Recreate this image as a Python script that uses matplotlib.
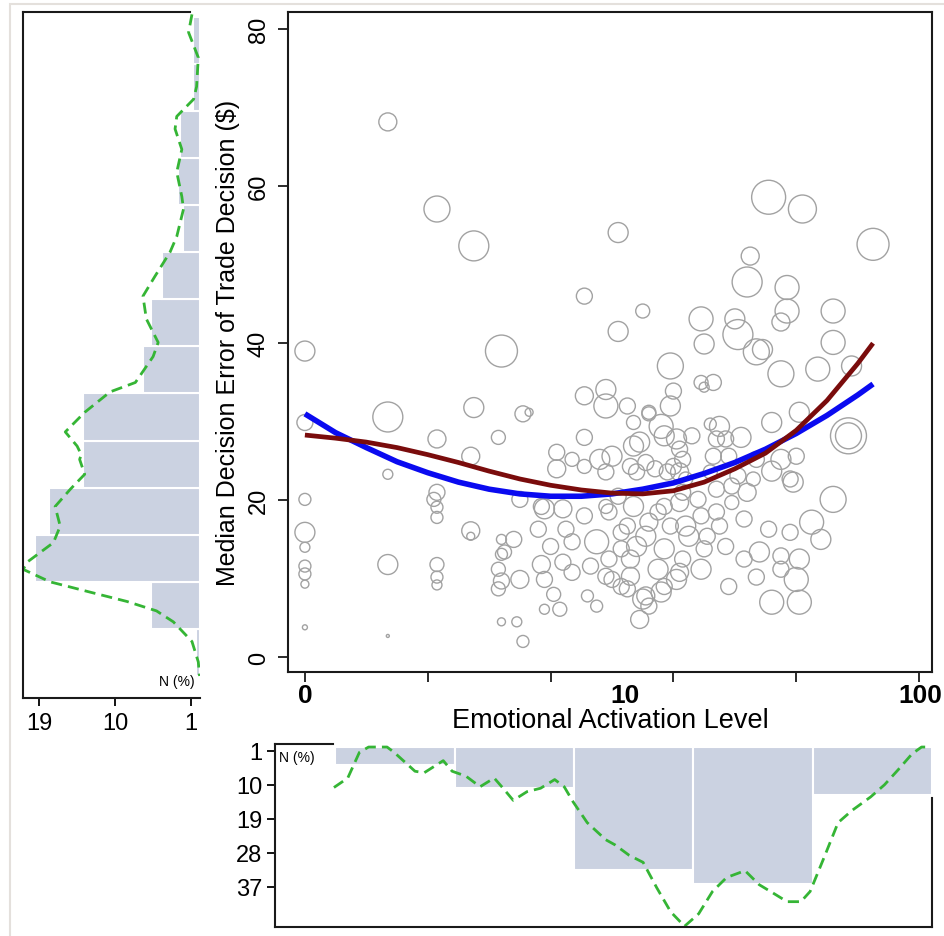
import matplotlib.pyplot as plt
import numpy as np
from matplotlib.patches import Rectangle

plt.rcParams['font.family'] = ['Liberation Sans', 'DejaVu Sans']

# bubbles: log10(activation + 1), median decision error ($), bubble weight
act_log = [
    0.00, 0.00, 0.00, 0.00, 0.00, 0.00, 0.00, 0.00, 0.00,
    0.27, 0.27, 0.27, 0.27, 0.27,
    0.43, 0.55, 0.55, 0.43, 0.43, 0.42, 0.43, 0.43, 0.54, 0.54, 0.43,
    0.63, 0.71, 0.64, 0.64, 0.63, 0.64, 0.63, 0.64, 0.71, 0.54, 0.64, 0.43, 0.43,
    0.91, 1.02, 1.10, 1.02, 1.29, 1.30, 1.19, 1.29, 1.30, 0.91, 0.98, 0.98,
    1.05, 1.20, 1.19, 1.12, 1.07, 1.17, 1.21, 1.26, 0.91, 0.82, 0.87, 0.73, 1.09,
    1.44, 1.57, 1.57, 1.55, 1.72, 1.40, 1.41, 1.47, 1.49, 1.55, 1.67, 1.72, 1.78,
    1.33, 1.61, 1.52, 1.32, 1.34, 1.42, 1.77, 1.77, 1.55, 1.60, 1.38,
    1.51, 1.62, 1.85, 1.45, 1.12, 1.16, 1.72, 1.65, 1.68, 1.52, 1.47, 1.59, 1.44,
    1.60, 1.61, 1.52, 1.09, 1.43, 1.55, 1.47, 1.38, 1.29, 1.21, 1.16, 1.10, 1.03,
    0.98, 1.23, 1.08, 1.31, 1.37, 1.48, 1.24, 1.12, 1.03, 0.99, 1.07, 1.17, 1.28,
    1.34, 1.39, 1.23, 1.34, 1.41, 1.24, 1.02, 1.43, 1.35, 1.51, 1.58, 1.55, 1.61,
    1.35, 1.07, 1.00, 1.11, 1.23, 1.32, 1.18, 1.08, 0.98, 0.82, 0.91, 1.06,
    0.77, 0.84, 0.91, 0.98, 1.15, 1.22, 1.29, 0.76, 0.85, 0.95, 1.05, 1.11, 1.19,
    1.25, 0.80, 0.87, 1.03, 1.17, 1.30, 0.77, 0.84, 0.93, 1.06, 1.15, 1.22, 0.78,
    0.87, 0.81, 1.05, 1.11, 1.17, 1.12, 0.96, 1.22, 1.20, 1.33, 1.37, 1.46, 1.58,
    1.39, 0.68, 0.65, 0.70, 0.83, 0.69, 0.70, 0.78, 1.00, 1.14, 1.22, 1.06, 0.99,
    0.92, 0.95, 0.78,
]
error = [
    39.0, 29.9, 20.1, 15.9, 14.0, 11.6, 10.6, 9.3, 3.8,
    68.2, 30.6, 23.3, 11.8, 2.7,
    57.1, 52.4, 31.8, 27.8, 21.0, 20.1, 19.1, 17.8, 16.1, 15.4, 11.8,
    28.0, 31.0, 15.0, 13.1, 11.2, 9.7, 8.7, 4.5, 2.0, 25.6, 39.0, 10.2, 9.2,
    46.0, 54.1, 44.1, 41.5, 43.1, 39.9, 37.1, 35.0, 34.4, 33.3, 34.1, 32.0,
    32.0, 33.9, 32.0, 31.0, 29.9, 28.2, 27.8, 28.2, 28.0, 26.1, 25.2, 31.2, 27.4,
    47.8, 47.1, 44.1, 42.7, 44.1, 43.1, 41.1, 38.9, 39.2, 36.1, 36.7, 40.1, 37.1,
    35.0, 31.2, 29.9, 29.7, 27.8, 28.0, 28.2, 28.2, 25.2, 25.6, 25.6,
    58.6, 57.1, 52.6, 51.1, 31.2, 29.4, 20.1, 17.2, 15.0, 23.7, 25.2, 22.3, 21.0,
    9.9, 7.0, 7.0, 4.8, 12.5, 12.9, 10.2, 9.0, 11.2, 9.9, 8.3, 7.4, 9.0,
    10.3, 12.5, 14.1, 15.4, 14.1, 13.4, 16.7, 17.2, 15.9, 18.5, 19.2, 19.2, 20.1,
    18.5, 19.7, 21.0, 21.4, 23.1, 22.7, 20.5, 17.6, 16.7, 16.3, 15.9, 11.2, 12.5,
    29.4, 26.9, 25.6, 24.8, 25.2, 23.6, 23.6, 23.6, 23.6, 24.0, 24.3, 24.3,
    19.2, 18.9, 18.0, 19.2, 18.5, 19.7, 18.0, 16.3, 16.3, 14.7, 16.7, 15.4, 16.7,
    15.4, 14.1, 14.7, 13.8, 13.8, 13.8, 11.8, 12.1, 11.6, 10.3, 11.2, 10.8, 9.9,
    10.8, 8.0, 8.7, 7.8, 9.0, 6.5, 25.2, 26.5, 24.3, 25.6, 27.8, 22.7, 22.7,
    21.8, 15.0, 13.4, 9.9, 6.1, 4.5, 20.1, 18.9, 9.9, 24.0, 23.6, 12.5, 12.5,
    7.8, 6.5, 6.1,
]
weight = [
    10, 8, 6, 10, 5, 6, 6, 4, 2.5,
    9, 15, 5, 10, 1.5,
    13, 15, 10, 9, 8, 7, 6, 6, 9, 4, 7,
    7, 8, 5, 6, 7, 8, 7, 4, 6, 9, 16, 6, 5,
    8, 10, 7, 10, 12, 10, 13, 7, 5, 9, 10, 12,
    8, 8, 10, 7, 7, 10, 10, 8, 8, 8, 7, 4, 10,
    15, 12, 12, 9, 12, 10, 15, 13, 10, 13, 12, 12, 10,
    8, 10, 10, 6, 8, 10, 18, 13, 10, 8, 8,
    17, 14, 16, 9, 7, 12, 13, 12, 10, 10, 8, 10, 9,
    12, 12, 12, 9, 8, 8, 8, 8, 10, 10, 10, 10, 8,
    8, 8, 10, 8, 8, 10, 10, 9, 8, 8, 10, 8, 8,
    8, 7, 8, 8, 8, 7, 8, 8, 8, 8, 8, 8, 10,
    10, 10, 10, 8, 8, 7, 8, 8, 8, 9, 7, 8,
    8, 9, 8, 7, 8, 9, 8, 8, 8, 12, 8, 10, 8,
    10, 8, 8, 8, 10, 8, 9, 8, 8, 9, 10, 9, 8,
    8, 7, 8, 9, 8, 8, 10, 8, 8, 8, 8, 7, 8,
    8, 8, 7, 9, 7, 5, 8, 10, 8, 8, 9, 9, 8,
    6, 6, 5,
]

# fitted curves
fit_x = [0.0, 0.1, 0.2, 0.3, 0.4, 0.5, 0.6, 0.7, 0.8, 0.9, 1.0,
         1.1, 1.2, 1.3, 1.4, 1.5, 1.6, 1.7, 1.8, 1.85]
fit_blue = [31.0, 28.6, 26.7, 24.9, 23.5, 22.3, 21.4, 20.8, 20.5, 20.5, 20.8,
            21.4, 22.2, 23.4, 24.8, 26.5, 28.5, 30.8, 33.4, 34.8]
fit_red = [28.3, 27.9, 27.4, 26.7, 25.8, 24.8, 23.7, 22.7, 21.9, 21.3, 20.9,
           20.8, 21.2, 22.3, 24.0, 26.0, 28.9, 32.7, 37.4, 40.0]

# left marginal histogram (error bins, % of N)
err_bin_lo = [-2.4, 3.6, 9.6, 15.6, 21.6, 27.6, 33.6, 39.6, 45.6, 51.6, 57.6, 63.6, 69.6, 75.6]
err_pct = [0.4, 5.75, 19.5, 17.8, 13.8, 13.8, 6.7, 5.8, 4.4, 2.0, 2.5, 2.3, 0.8, 0.8]
kde_err_pct = [0.9, 1.3, 0.15, 0.35, 0.7, 2.7, 2.9, 2.1, 2.7, 2.1, 1.9, 2.7, 3.5, 5.3, 6.7,
               6.3, 4.9, 5.5, 7.6, 10.6, 13.6, 15.9, 14.5, 14.0, 14.2, 13.6, 15.3, 17.1,
               16.5, 17.3, 20.3, 20.9, 17.7, 13.0, 8.6, 5.1, 3.1, 0.9, 0.15, 0.0]
kde_err_y = [81.9, 79.6, 76.4, 72.7, 71.1, 68.9, 67.3, 64.7, 61.8, 58.7, 57.1, 53.6, 51.6,
             48.5, 46.0, 43.1, 40.1, 38.3, 35.0, 33.8, 31.2, 28.7, 26.9, 25.8, 25.2, 23.3,
             21.4, 19.2, 16.7, 14.6, 12.2, 11.2, 9.6, 8.3, 7.1, 5.9, 4.5, 2.0, -0.6, -2.4]

# bottom marginal histogram (activation bins, % of N)
act_bin_lo = [0.098, 0.487, 0.876, 1.265, 1.654]
act_pct = [4.8, 10.8, 32.6, 36.3, 12.8]
kde_act_x = [0.094, 0.139, 0.177, 0.207, 0.267, 0.29, 0.358, 0.388, 0.45, 0.479, 0.524,
             0.57, 0.616, 0.645, 0.678, 0.723, 0.767, 0.813, 0.844, 0.873, 0.919, 0.979,
             1.01, 1.055, 1.101, 1.146, 1.191, 1.236, 1.282, 1.327, 1.373, 1.433, 1.479,
             1.524, 1.57, 1.615, 1.645, 1.691, 1.736, 1.781, 1.842, 1.887, 1.933, 1.977,
             2.008, 2.035]
kde_act_pct = [10.7, 8.2, 1.4, 0.0, 0.0, 1.4, 6.4, 6.8, 3.6, 6.4, 7.7, 10.5, 8.2, 10.9,
               14.1, 11.8, 10.9, 8.6, 10.5, 14.5, 20.0, 24.5, 25.9, 28.6, 30.5, 37.3, 43.6,
               47.4, 44.1, 38.2, 34.5, 32.7, 36.4, 38.6, 40.9, 40.9, 38.2, 29.1, 20.0, 16.8,
               13.2, 10.0, 5.9, 1.8, 0.0, 0.0]

x_tick_vals = [0, 10, 100]

bar_col = '#cbd2e1'
kde_col = '#35b535'
spine_col = '#1a1a1a'

fig = plt.figure(figsize=(9.44, 9.37), dpi=100)
# faint outer frame of the original screenshot
fig.patches.append(Rectangle((10 / 944, -0.01), 1.0, 1.0 - 5 / 937 + 0.01, transform=fig.transFigure,
                             fill=False, edgecolor='#e4e0dc', linewidth=1.5))

# ---- main scatter ----
ax = fig.add_axes([0.3051, 0.2817, 0.6822, 0.7044])
sizes = 2.07 * np.array(weight) ** 2
ax.scatter(act_log, error, s=sizes, facecolors='none', edgecolors='#a2a2a2', linewidths=1.0)
ax.plot(fit_x, fit_blue, color='#0a0af0', lw=4.0, solid_capstyle='butt')
ax.plot(fit_x, fit_red, color='#7a0c0c', lw=3.4, solid_capstyle='butt')
ax.set_xlim(-0.055, 2.042)
ax.set_ylim(-1.9, 82.2)
ax.set_yticks([0, 20, 40, 60, 80])
ax.xaxis.remove_overlapping_locs = False
ax.set_xticks(np.arange(0, 2.01, 0.4), labels=[''] * 6)
ax.set_xticks(np.log10(np.array(x_tick_vals) + 1), labels=[str(v) for v in x_tick_vals], minor=True)
ax.tick_params(axis='x', which='minor', length=0, labelsize=19, pad=8)
for t in ax.get_xticklabels(minor=True):
    t.set_fontweight('bold')
ax.tick_params(axis='both', which='major', direction='out', length=7, width=1.3, color=spine_col)
ax.tick_params(axis='y', labelsize=17, labelrotation=90, pad=6)
for t in ax.get_yticklabels():
    t.set_va('center')
ax.set_xlabel('Emotional Activation Level', fontsize=19.5, labelpad=0)
ax.set_ylabel('Median Decision Error of Trade Decision ($)', fontsize=18, labelpad=6)
for s in ax.spines.values():
    s.set_color(spine_col)
    s.set_linewidth(1.5)

# ---- left marginal ----
axl = fig.add_axes([0.0244, 0.2540, 0.1870, 0.7321])
axl.barh(np.array(err_bin_lo) + 3.0, err_pct, height=6.0, left=0, color=bar_col,
         edgecolor='white', linewidth=1.5)
axl.plot(kde_err_pct, kde_err_y, color=kde_col, lw=2.0, dashes=(4, 2.2))
axl.set_xlim(20.9, 0)
axl.set_ylim(-5.2, 82.2)
axl.set_xticks([19, 10, 1])
axl.set_yticks([])
axl.tick_params(axis='x', direction='out', length=6, width=1.3, labelsize=17, pad=4)
axl.spines['right'].set_visible(False)
axl.spines['top'].set_bounds(20.9, 1.1)
for s in axl.spines.values():
    s.set_color(spine_col)
    s.set_linewidth(1.5)
axl.text(0.97, 0.015, 'N (%)', transform=axl.transAxes, ha='right', va='bottom', fontsize=10)

# ---- bottom marginal ----
axb = fig.add_axes([0.2913, 0.0096, 0.6960, 0.1953])
axb.bar(np.array(act_bin_lo) + 0.1945, act_pct, width=0.389, bottom=0, color=bar_col,
        edgecolor='white', linewidth=1.5)
axb.plot(kde_act_x, kde_act_pct, color=kde_col, lw=2.0, dashes=(4, 2.2))
axb.set_xlim(-0.098, 2.042)
axb.set_ylim(47.6, -0.8)
axb.set_yticks([1, 10, 19, 28, 37])
axb.set_xticks([])
axb.tick_params(axis='y', direction='out', length=6, width=1.3, labelsize=17, pad=3)
axb.spines['top'].set_bounds(-0.098, 0.09)
axb.spines['right'].set_bounds(13.6, 47.6)
for s in axb.spines.values():
    s.set_color(spine_col)
    s.set_linewidth(1.5)
axb.text(0.006, 0.965, 'N (%)', transform=axb.transAxes, ha='left', va='top', fontsize=10)

fig.savefig('out.png', dpi=100)
